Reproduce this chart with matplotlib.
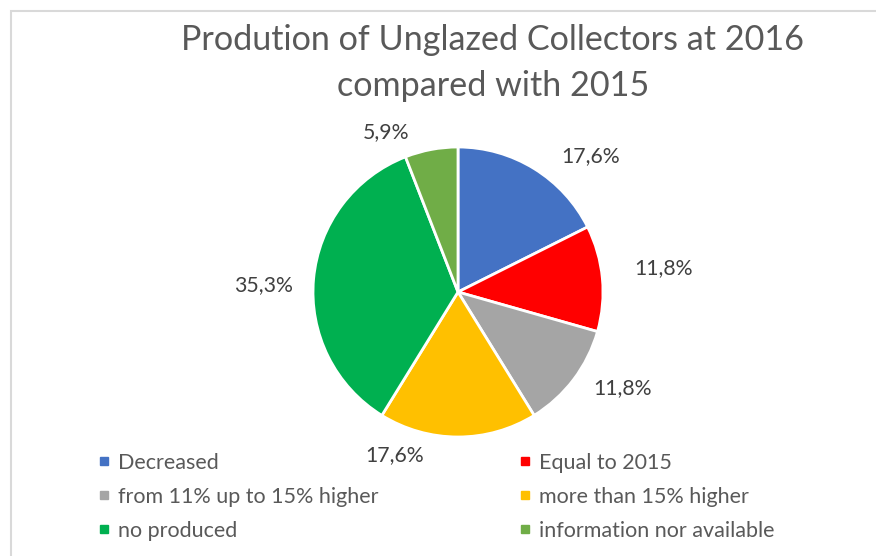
import matplotlib
matplotlib.use("Agg")
import matplotlib.pyplot as plt
import numpy as np
from matplotlib.lines import Line2D
from matplotlib.patches import Rectangle

categories = ["Decreased", "Equal to 2015", "from 11% up to 15% higher",
              "more than 15% higher", "no produced", "information nor available"]
values = [17.6, 11.8, 11.8, 17.6, 35.3, 5.9]
value_labels = ["17,6%", "11,8%", "11,8%", "17,6%", "35,3%", "5,9%"]
colors = ["#4472C4", "#FF0000", "#A5A5A5", "#FFC000", "#00B050", "#70AD47"]

# label placement (radial factor, angular offset in degrees)
label_r = [1.31, 1.43, 1.31, 1.21, 1.34, 1.21]
label_da = [-12.7, 1.3, 6.8, -21.3, 3.2, 13.6]

plt.rcParams['font.family'] = ['Lato', 'DejaVu Sans']

W, H = 876, 556
fig = plt.figure(figsize=(W / 100, H / 100), dpi=100)
fig.patch.set_facecolor("white")

# outer chart-area border
fig.patches.append(Rectangle((11 / W, -0.05), 1.2, 1 - 11 / H + 0.05,
                             transform=fig.transFigure, fill=False,
                             edgecolor="#D9D9D9", linewidth=1.5))

cx, cy, R = 458, 292, 145
ax = fig.add_axes([(cx - R) / W, (H - cy - R) / H, 2 * R / W, 2 * R / H])
ax.axis("off")

wedges, _ = ax.pie(values, colors=colors, startangle=90, counterclock=False,
                   radius=1, wedgeprops=dict(edgecolor="white", linewidth=2))
ax.set_xlim(-1, 1)
ax.set_ylim(-1, 1)
ax.set_aspect("equal")

for w, lab, rf, da in zip(wedges, value_labels, label_r, label_da):
    th = np.deg2rad((w.theta1 + w.theta2) / 2 + da)
    ax.text(rf * np.cos(th), rf * np.sin(th), lab, ha="center", va="center",
            fontsize=15.3, color="#404040", clip_on=False)

fig.text(493 / W, 1 - 63 / H, "Prodution of Unglazed Collectors at 2016\ncompared with 2015",
         ha="center", va="center", fontsize=24.6, color="#595959", linespacing=1.5)

handles = [Line2D([], [], marker="s", linestyle="none", markersize=6,
                  markerfacecolor=c, markeredgecolor=c) for c in colors]
order = [0, 2, 4, 1, 3, 5]  # row-wise filling for 2 columns
fig.legend([handles[i] for i in order], [categories[i] for i in order],
           ncol=2, loc="upper left",
           bbox_to_anchor=(98 / W, 1 - 453 / H), frameon=False, borderpad=0,
           borderaxespad=0,
           fontsize=15.5, labelcolor="#595959", handlelength=0.6,
           handletextpad=0.35, columnspacing=6.5, labelspacing=0.64)

fig.savefig("out.png", dpi=100, facecolor="white")
